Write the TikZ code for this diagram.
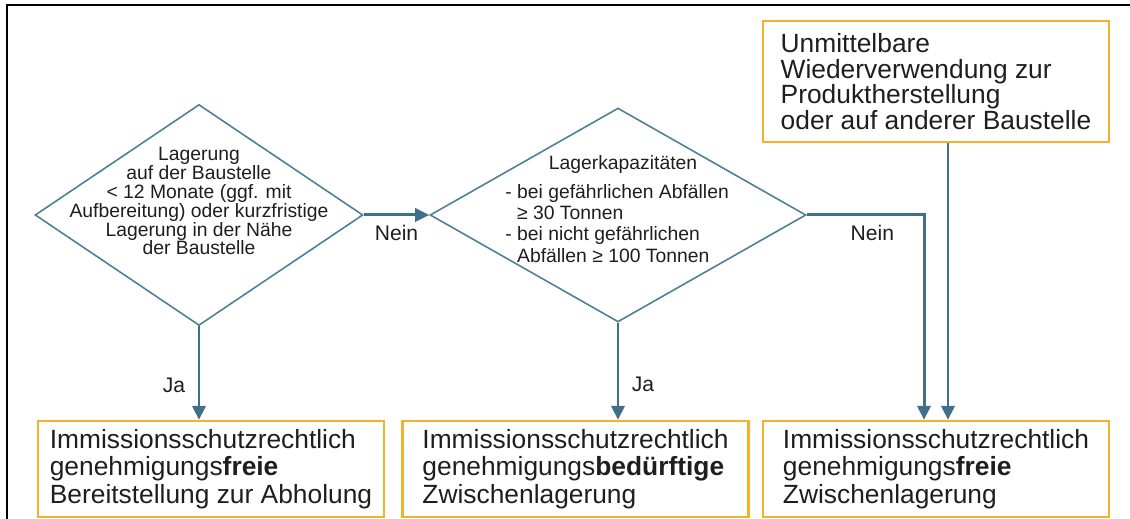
\documentclass[tikz,border=0pt]{standalone}
\usepackage{fontspec}
\setmainfont{Liberation Sans}
\usepackage{xcolor}
\usetikzlibrary{shapes.geometric, arrows.meta, positioning}
\definecolor{arrowblue}{HTML}{3F6F8C}
\definecolor{dialine}{HTML}{4F7F95}
\definecolor{boxorange}{HTML}{F6B12B}
\definecolor{textgray}{HTML}{1E1E1E}
\tikzset{
    decision/.style={diamond, draw=dialine, line width=0.9pt, inner sep=0pt},
    dtext/.style={align=center, inner sep=0pt, text=textgray, font=\fontsize{11}{10.8}\selectfont},
    result/.style={rectangle, draw=boxorange, line width=1.3pt, align=left, minimum width=6.92cm, minimum height=1.92cm, text=textgray, font=\fontsize{15}{15.6}\selectfont},
    source/.style={result, minimum height=2.42cm, font=\fontsize{15}{14.6}\selectfont},
    arrow/.style={-{Triangle[length=8pt, width=7.5pt]}, line width=1.7pt, draw=arrowblue},
    lbl/.style={inner sep=2pt, text=textgray, font=\fontsize{12}{14}\selectfont},
}

\begin{document}
\begin{tikzpicture}[x=0.02cm, y=-0.02cm]
    \useasboundingbox (0,0) rectangle (1130,519);
    % Frame
    \draw[line width=1.6pt] (7,519) -- (7,5) -- (1130,5);

    % Decisions
    \node[decision, minimum width=6.56cm, minimum height=4.42cm] (lager) at (199,215) {};
    \node[dtext] (lagertxt) at (199,201) {Lagerung\\auf der Baustelle\\< 12 Monate (ggf. mit\\Aufbereitung) oder kurzfristige\\Lagerung in der Nähe\\der Baustelle};

    \node[decision, minimum width=7.52cm, minimum height=4.28cm] (kap) at (618,215) {};
    \node[dtext] (kaptitle) at (623,165) {Lagerkapazitäten};
    \node[dtext, align=left, anchor=west, font=\fontsize{11}{12}\selectfont] (kaplist) at (505,223.5) {- bei gefährlichen Abfällen\\\phantom{-\ }≥ 30 Tonnen\\- bei nicht gefährlichen\\\phantom{-\ }Abfällen ≥ 100 Tonnen};

    % Results
    \node[source] (reuse) at (936,81.5) {Unmittelbare\\Wiederverwendung zur\\Produktherstellung\\oder auf anderer Baustelle};
    \node[result] (abholung) at (211,469) {Immissionsschutzrechtlich\\genehmigungs\textbf{freie}\\Bereitstellung zur Abholung};
    \node[result] (bedarf) at (575.5,469) {Immissionsschutzrechtlich\\genehmigungs\textbf{bedürftige}\\Zwischenlagerung};
    \node[result] (frei) at (936,469) {Immissionsschutzrechtlich\\genehmigungs\textbf{freie}\\Zwischenlagerung};

    % Connectors
    \draw[arrow] (lager.east) -- node[lbl, below=3pt] {Nein} (kap.west);
    \draw[arrow] (lager.south) -- node[lbl, pos=0.63, left=5pt] {Ja} (abholung.north -| lager.south);
    \draw[arrow] (kap.south) -- node[lbl, pos=0.63, right=5pt] {Ja} (bedarf.north -| kap.south);
    \draw[arrow] (kap.east) -| node[lbl, pos=0.28, below=3pt] {Nein} ([xshift=-0.24cm]frei.north);
    \draw[arrow] ([xshift=0.24cm]reuse.south) -- ([xshift=0.24cm]frei.north);
\end{tikzpicture}
\end{document}
